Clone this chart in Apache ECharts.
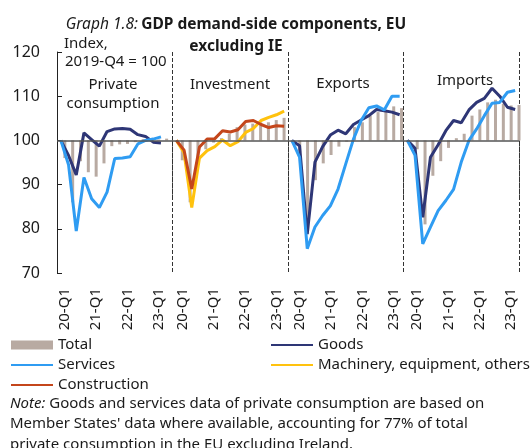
<!DOCTYPE html>
<html>
<head>
<meta charset="utf-8">
<script src="https://cdn.jsdelivr.net/npm/echarts@6/dist/echarts.min.js"></script>
<style>
  html, body { margin: 0; padding: 0; background: #fff; }
  #main { width: 531px; height: 448px; }
</style>
</head>
<body>
<div id="main"></div>
<script>
// quarters in every panel (index, 2019-Q4 = 100)
const quarters = ['19-Q4', '20-Q1', '20-Q2', '20-Q3', '20-Q4', '21-Q1', '21-Q2', '21-Q3',
                  '21-Q4', '22-Q1', '22-Q2', '22-Q3', '22-Q4', '23-Q1', '23-Q2'];
const tickLabels = ['20-Q1', '21-Q1', '22-Q1', '23-Q1'];
const yTicks = [70, 80, 90, 100, 110, 120];
const panels = ['Private consumption', 'Investment', 'Exports', 'Imports'];

// private consumption
const pcTotal    = [100, 96.0, 86.0, 95.3, 92.8, 91.8, 94.8, 98.7, 99.1, 99.2, 99.6, 100.3, 100.4, 100.2, 100.4];
const pcGoods    = [100, 96.6, 92.2, 101.7, 100.2, 98.7, 102.0, 102.6, 102.7, 102.5, 101.3, 100.9, 99.6, 99.4, null];
const pcServices = [100, 94.5, 79.5, 91.6, 86.8, 84.8, 88.3, 95.9, 96.0, 96.3, 99.2, 100.0, 100.3, 100.8, null];
// investment
const invTotal        = [100, 95.5, 86.0, 96.0, 98.0, 99.5, 100.5, 101.5, 103.0, 103.6, 103.8, 104.1, 104.1, 104.6, 105.1];
const invMachinery    = [100, 97.2, 84.8, 96.0, 97.7, 98.6, 100.1, 98.8, 99.7, 101.8, 102.7, 104.5, 105.2, 105.8, 106.6];
const invConstruction = [100, 97.8, 89.0, 98.5, 100.3, 100.4, 102.2, 101.9, 102.4, 104.3, 104.5, 103.6, 102.9, 103.3, 103.2];
// exports
const expTotal    = [100, 97.3, 79.5, 91.0, 94.8, 96.7, 98.6, 99.7, 103.0, 104.1, 105.6, 106.4, 106.5, 107.7, 107.3];
const expGoods    = [100, 98.8, 78.8, 95.1, 98.6, 101.2, 102.3, 101.5, 103.6, 104.6, 105.6, 107.0, 106.7, 106.4, 105.8];
const expServices = [100, 96.2, 75.5, 80.4, 83.0, 85.2, 89.0, 94.7, 100.3, 104.5, 107.4, 107.8, 106.9, 110.0, 110.0];
// imports
const impTotal    = [100, 98.0, 81.0, 92.0, 95.3, 98.3, 100.5, 101.5, 105.6, 107.0, 108.6, 109.2, 108.3, 107.9, 108.0];
const impGoods    = [100, 98.2, 82.6, 96.2, 99.0, 102.2, 104.5, 104.0, 106.9, 108.6, 109.5, 111.8, 110.0, 107.5, 107.0];
const impServices = [100, 96.6, 76.6, 80.4, 84.1, 86.4, 88.9, 95.1, 100.0, 102.6, 105.6, 108.4, 108.6, 110.9, 111.3];

const FONT = 'Noto Sans';
const TXT = '#1a1a1a';
const colors = {
  'Total': '#b8aaa2',
  'Goods': '#2e3676',
  'Services': '#2f9cf2',
  'Machinery, equipment, others': '#ffc20e',
  'Construction': '#c4461b'
};

const N = quarters.length;
const cats = [];
panels.forEach((p, i) => quarters.forEach(q => cats.push(i + '|' + q)));

// values are drawn relative to 100 so bars start at the 100 line
const rel = v => (v == null ? '-' : +(v - 100).toFixed(2));
function slot(panel, arr) {
  const out = new Array(cats.length).fill('-');
  arr.forEach((v, k) => { out[panel * N + k] = rel(v); });
  return out;
}
const isSep = i => i > 0 && i % N === 0;

const lines = [
  [0, 'Goods', pcGoods], [0, 'Services', pcServices],
  [1, 'Machinery, equipment, others', invMachinery], [1, 'Construction', invConstruction],
  [2, 'Goods', expGoods], [2, 'Services', expServices],
  [3, 'Goods', impGoods], [3, 'Services', impServices]
];

const series = [{
  name: 'Total',
  type: 'bar',
  xAxisIndex: 1,
  barWidth: 3,
  itemStyle: { color: colors['Total'] },
  data: [].concat(pcTotal, invTotal, expTotal, impTotal).map(rel),
  markLine: {
    silent: true,
    symbol: 'none',
    label: { show: false },
    lineStyle: { color: '#555', width: 1.5, type: 'solid' },
    data: [{ yAxis: 0 }]
  }
}];
lines.forEach(([p, name, arr]) => {
  series.push({
    name: name,
    type: 'line',
    xAxisIndex: 0,
    symbol: 'none',
    connectNulls: false,
    lineStyle: { color: colors[name], width: 3 },
    itemStyle: { color: colors[name] },
    data: slot(p, arr)
  });
});

// legend entry for a line: just the stroke, no marker
const lineItem = name => ({ name: name, itemStyle: { color: 'rgba(0,0,0,0)', borderWidth: 0, opacity: 0 } });

const txt = (x, y, text, extra) => ({
  type: 'text', x: x, y: y, silent: true,
  style: Object.assign({ text: text, fill: TXT, font: '15px "' + FONT + '"',
                         align: 'center', verticalAlign: 'middle' }, extra || {})
});

const legendBase = {
  top: 335, orient: 'vertical', padding: 0,
  itemWidth: 42, itemHeight: 9, itemGap: 0,
  selectedMode: false,
  textStyle: { fontSize: 15, lineHeight: 20, color: TXT, fontFamily: FONT }
};

const chart = echarts.init(document.getElementById('main'));
chart.setOption({
  animation: false,
  textStyle: { fontFamily: FONT },
  grid: { left: 57, right: 12, top: 52, bottom: 175 },
  xAxis: [{
    type: 'category',
    data: cats,
    position: 'bottom',
    boundaryGap: true,
    axisLine: { show: false },
    axisLabel: { show: false },
    axisTick: { show: true, interval: isSep, length: 60, lineStyle: { color: '#333', type: 'dashed', width: 1 } },
    splitLine: { show: true, interval: isSep, lineStyle: { color: '#333', type: 'dashed', width: 1 } }
  }, {
    type: 'category',
    data: cats,
    position: 'bottom',
    boundaryGap: false,
    axisLine: { show: false },
    axisTick: { show: false },
    splitLine: { show: false },
    axisLabel: {
      interval: (i, v) => tickLabels.includes(v.split('|')[1]),
      formatter: v => v.split('|')[1],
      rotate: 90,
      margin: 15,
      fontSize: 15,
      color: TXT,
      fontFamily: FONT
    }
  }],
  yAxis: {
    type: 'value',
    min: yTicks[0] - 100,
    max: yTicks[yTicks.length - 1] - 100,
    interval: yTicks[1] - yTicks[0],
    axisLine: { show: true, lineStyle: { color: '#222', width: 1 } },
    axisTick: { show: true, inside: true, length: 5, lineStyle: { color: '#222' } },
    splitLine: { show: false },
    axisLabel: { formatter: v => String(v + 100), fontSize: 16, margin: 17, color: TXT, fontFamily: FONT }
  },
  legend: [
    Object.assign({ left: 10, data: [{ name: 'Total', icon: 'rect' }, lineItem('Services'), lineItem('Construction')] }, legendBase),
    Object.assign({ left: 270, data: [lineItem('Goods'), lineItem('Machinery, equipment, others')] }, legendBase)
  ],
  graphic: [
    {
      type: 'text', x: 236, y: 25, silent: true,
      style: {
        text: '{i|Graph 1.8:} {b|GDP demand-side components, EU}',
        align: 'center', verticalAlign: 'middle',
        rich: {
          i: { fontStyle: 'italic', fontSize: 15.5, fontFamily: FONT, fill: TXT },
          b: { fontWeight: 'bold', fontSize: 15.5, fontFamily: FONT, fill: TXT }
        }
      }
    },
    txt(236, 47, 'excluding IE', { font: 'bold 15.5px "' + FONT + '"' }),
    txt(64, 44, 'Index,', { align: 'left', font: '15px "' + FONT + '"' }),
    txt(65, 62, '2019-Q4 = 100', { align: 'left', font: '15px "' + FONT + '"' }),
    txt(113, 85, 'Private'),
    txt(113, 104, 'consumption'),
    txt(230, 85, 'Investment'),
    txt(343, 84, 'Exports'),
    txt(465, 81, 'Imports'),
    {
      type: 'text', x: 10, y: 393, silent: true,
      style: {
        text: '{i|Note:} Goods and services data of private consumption are based on\n' +
              'Member States\' data where available, accounting for 77% of total\n' +
              'private consumption in the EU excluding Ireland.',
        align: 'left', verticalAlign: 'top',
        fill: TXT, fontSize: 15, fontFamily: FONT, lineHeight: 20.5,
        rich: { i: { fontStyle: 'italic', fontSize: 15, fontFamily: FONT, fill: TXT, lineHeight: 20.5 } }
      }
    }
  ],
  series: series
});
</script>
</body>
</html>
